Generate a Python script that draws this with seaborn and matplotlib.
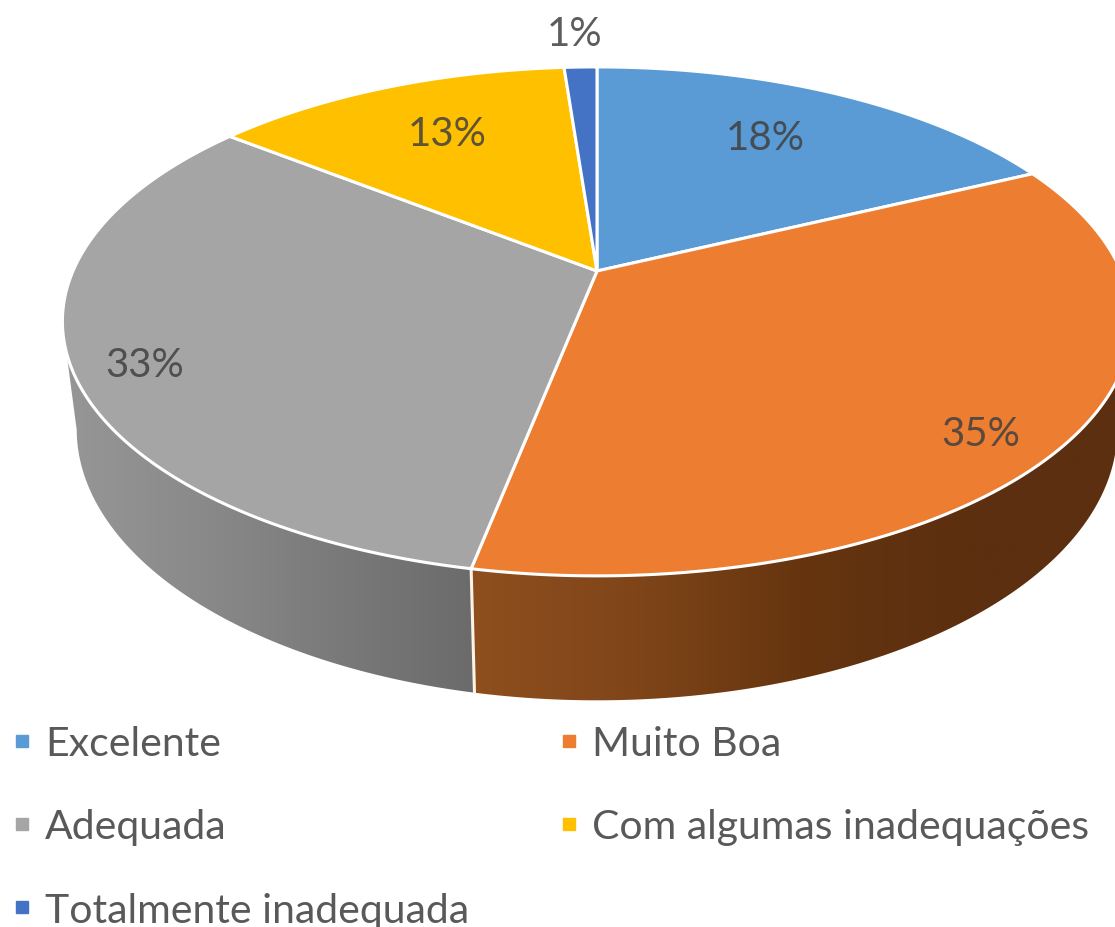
import matplotlib
matplotlib.use("Agg")
import matplotlib.pyplot as plt
from matplotlib.lines import Line2D
from matplotlib.patches import Polygon
import numpy as np
import seaborn as sns

categories = ["Excelente", "Muito Boa", "Adequada", "Com algumas inadequações", "Totalmente inadequada"]
shares = [17.9, 35.2, 32.5, 13.2, 1.2]
shown = ["18%", "35%", "33%", "13%", "1%"]
slice_colors = ["#5B9BD5", "#ED7D31", "#A5A5A5", "#FFC000", "#4472C4"]

label_xy = [(765, 139), (981, 435), (145, 366), (447, 134), (575, 34)]

sns.set_theme(style="white")
plt.rcParams["font.family"] = ["Lato", "DejaVu Sans"]

PERSP = 0.198
TOP = (597, 272, 524, 244.5)
BOTTOM = (597, 376.5, 510, 260.5)


def ring(theta, plane):
    # theta runs clockwise from 12 o'clock, in degrees
    cx, cy, a, b = plane
    x = np.sin(np.radians(theta))
    y = np.cos(np.radians(theta))
    w = 1 + PERSP * y
    return cx + a * x / w, cy - b * y / w


fig = plt.figure(figsize=(11.15, 9.28), dpi=100)
ax = fig.add_axes([0, 0, 1, 1])
ax.set_xlim(0, 1115)
ax.set_ylim(928, 0)
ax.axis("off")

edges = np.concatenate([[0], np.cumsum(shares)]) * 3.6
pal = sns.color_palette(slice_colors)

# side wall: only the two front slices show, each with a horizontal gradient
t = np.linspace(edges[1], edges[2], 300)
tx, ty = ring(t, TOP)
bx, by = ring(t, BOTTOM)
a, b = np.argmax(tx), np.argmax(bx)
orange_wall = np.column_stack([np.r_[tx[a:], bx[b:][::-1]], np.r_[ty[a:], by[b:][::-1]]])

t = np.linspace(edges[2], edges[3], 300)
tx, ty = ring(t, TOP)
bx, by = ring(t, BOTTOM)
a, b = np.argmin(tx), np.argmin(bx)
gray_wall = np.column_stack([np.r_[tx[:a + 1], bx[:b + 1][::-1]], np.r_[ty[:a + 1], by[:b + 1][::-1]]])

wall_specs = [
    (orange_wall, ["#8f4f1e", "#7f4519", "#66350f", "#5c2f10", "#5c2f10"], 470, 1130),
    (gray_wall, ["#979797", "#8a8a8a", "#7a7a7a", "#6b6b6b"], 60, 475),
]
for pts, ramp, x0, x1 in wall_specs:
    cm = sns.blend_palette(ramp, n_colors=256, as_cmap=True)
    im = ax.imshow(np.linspace(0, 1, 256)[None, :], extent=(x0, x1, 720, 100),
                   cmap=cm, aspect="auto", zorder=1)
    im.set_clip_path(Polygon(pts, transform=ax.transData))

# white divider on the wall
dx0, dy0 = ring(edges[2], TOP)
dx1, dy1 = ring(edges[2], BOTTOM)
ax.plot([dx0, dx1], [dy0, dy1], color="#fdf3e6", lw=2.2, zorder=2)

# top face
for i in range(len(shares)):
    t = np.linspace(edges[i], edges[i + 1], 200)
    x, y = ring(t, TOP)
    ax.fill(np.r_[TOP[0], x], np.r_[TOP[1], y], facecolor=pal[i], edgecolor="white",
            lw=2.2, joinstyle="round", zorder=3)

for s, (lx, ly) in zip(shown, label_xy):
    ax.text(lx, ly, s, ha="center", va="center", fontsize=29, color="#404040", alpha=0.85, zorder=4)

# column-first filling, so the order goes down the left column then the right
order = [0, 2, 4, 1, 3]
handles = [Line2D([], [], ls="", marker="s", ms=9, color=pal[i], label=categories[i]) for i in order]
ax.legend(handles=handles, ncol=2, frameon=False, fontsize=29.5, labelcolor="#595959",
          loc="upper left", bbox_to_anchor=(0.009, 0.2175), numpoints=1, handlelength=0.6,
          handletextpad=0.25, labelspacing=1.13, columnspacing=2.15, borderpad=0, borderaxespad=0)

fig.savefig("out.png", dpi=100)
